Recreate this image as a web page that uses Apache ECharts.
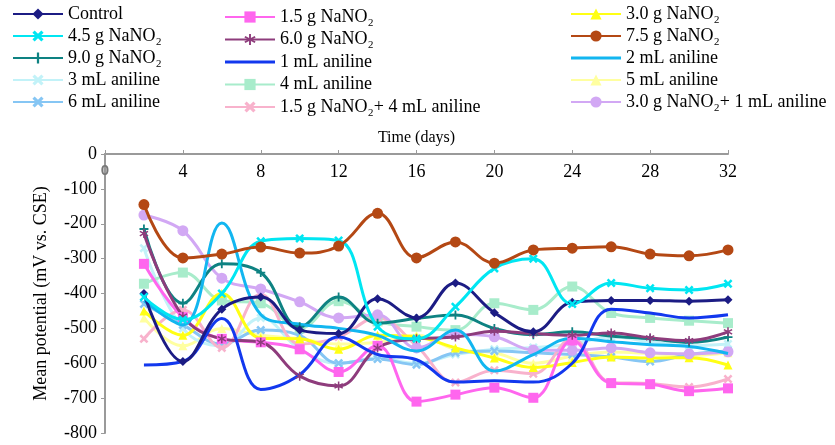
<!DOCTYPE html>
<html><head><meta charset="utf-8">
<script src="https://cdn.jsdelivr.net/npm/echarts@6/dist/echarts.min.js"></script>
<style>html,body{margin:0;padding:0;background:#fff}#c{width:835px;height:445px}</style>
</head><body><div id="c"></div>
<script>
var days = [2,4,6,8,10,12,14,16,18,20,22,24,26,28,30,32];
var xTicks = [0,4,8,12,16,20,24,28,32];
var yTicks = [0,-100,-200,-300,-400,-500,-600,-700,-800];
var seriesNames = ['Control','4.5 g NaNO₂','9.0 g NaNO₂','3 mL aniline','6 mL aniline',
  '1.5 g NaNO₂','6.0 g NaNO₂','1 mL aniline','4 mL aniline','1.5 g NaNO₂+ 4 mL aniline',
  '3.0 g NaNO₂','7.5 g NaNO₂','2 mL aniline','5 mL aniline','3.0 g NaNO₂+ 1 mL aniline'];
var control     = [-400,-595,-445,-410,-505,-515,-415,-470,-370,-455,-510,-425,-420,-420,-422,-418];
var g45         = [-410,-475,-400,-250,-242,-248,-495,-530,-438,-328,-300,-430,-370,-385,-390,-372];
var g90         = [-215,-428,-315,-340,-495,-410,-485,-472,-462,-500,-518,-510,-522,-530,-540,-525];
var ml3         = [-270,-500,-550,-470,-560,-600,-585,-600,-575,-560,-555,-545,-525,-538,-550,-545];
var ml6         = [-430,-490,-545,-505,-520,-600,-588,-604,-570,-565,-570,-575,-582,-595,-575,-565];
var g15         = [-315,-468,-530,-540,-560,-625,-550,-710,-690,-670,-699,-535,-657,-660,-680,-672];
var g60         = [-228,-465,-530,-540,-637,-665,-556,-530,-525,-508,-515,-520,-513,-527,-535,-510];
var ml1         = [-605,-595,-472,-675,-633,-525,-575,-590,-654,-650,-654,-600,-445,-456,-470,-461];
var ml4         = [-372,-340,-420,-428,-500,-422,-480,-495,-505,-428,-447,-380,-456,-470,-478,-485];
var g15ml4      = [-530,-447,-556,-402,-545,-525,-470,-550,-655,-620,-630,-530,-655,-658,-668,-645];
var g30         = [-450,-520,-400,-528,-530,-560,-520,-525,-556,-585,-612,-598,-582,-585,-584,-605];
var g75         = [-145,-298,-287,-267,-284,-264,-170,-298,-252,-313,-275,-270,-266,-287,-292,-275];
var ml2         = [-420,-490,-198,-460,-488,-500,-520,-565,-505,-622,-575,-528,-538,-547,-552,-572];
var ml5         = [-470,-550,-500,-520,-530,-545,-540,-520,-560,-570,-600,-580,-568,-572,-578,-570];
var g30ml1      = [-175,-220,-356,-387,-424,-470,-461,-556,-517,-524,-562,-563,-556,-570,-573,-567];

var valueSets = [control,g45,g90,ml3,ml6,g15,g60,ml1,ml4,g15ml4,g30,g75,ml2,ml5,g30ml1];

var X = 'path://M0,2L2,0L5,3L8,0L10,2L7,5L10,8L8,10L5,7L2,10L0,8L3,5Z';
var PLUS = 'path://M4,0H6V4H10V6H6V10H4V6H0V4H4Z';
var STAR = 'path://M4.2,0H5.8V3.6L8.9,1.8L9.7,3.2L6.6,5L9.7,6.8L8.9,8.2L5.8,6.4V10H4.2V6.4L1.1,8.2L0.3,6.8L3.4,5L0.3,3.2L1.1,1.8L4.2,3.6Z';
var LINEICON = 'path://M0,4.7H10V5.3H0Z';
var styles = [
  {c:'#1c1c84', s:'diamond', z:11},
  {c:'#00e6f2', s:X, z:11},
  {c:'#0e8282', s:PLUS, z:10},
  {c:'#c2f2f8', s:X, z:7},
  {c:'#86c6f4', s:X, z:7},
  {c:'#ff66ee', s:'rect', z:10},
  {c:'#8e3c7c', s:STAR, z:10},
  {c:'#1238ee', s:'none', z:10},
  {c:'#a8eccb', s:'rect', z:8},
  {c:'#f8b2cc', s:X, z:8},
  {c:'#ffff14', s:'triangle', z:9},
  {c:'#b44814', s:'circle', z:12},
  {c:'#12b6f0', s:'none', z:10},
  {c:'#ffffa0', s:'triangle', z:6},
  {c:'#d2a8f4', s:'circle', z:9}
];

var series = seriesNames.map(function(n,i){
  var st = styles[i];
  var size = st.s==='circle' ? 11 : (st.s==='rect' ? 10 : 9);
  return {
    name:n, type:'line', smooth:0.4, z:st.z,
    symbol: st.s, symbolSize: size, showSymbol: st.s!=='none',
    lineStyle:{color:st.c, width:3},
    itemStyle:{color:st.c},
    emphasis:{disabled:true},
    data: days.map(function(d,k){return [d, valueSets[i][k]];})
  };
});

var legendText = {fontFamily:'Liberation Serif', fontSize:18, color:'#000'};
function mkLegend(idx, left, top, gap){
  return {data:idx.map(function(i){
      var o = {name:seriesNames[i]};
      if (styles[i].s==='none') o.icon = LINEICON;
      return o;
    }), orient:'vertical', left:left, top:top, itemWidth:50, itemHeight:14,
    itemGap:gap, textStyle:legendText, padding:0, selectedMode:false};
}

var chart = echarts.init(document.getElementById('c'), null, {renderer:'canvas'});
chart.setOption({
  animation:false,
  backgroundColor:'#fff',
  legend:[
    mkLegend([0,1,2,3,4], 12, 5, 4),
    mkLegend([5,6,7,8,9], 224, 8, 4.5),
    mkLegend([10,11,12,13,14], 570, 5, 4)
  ],
  grid:{left:105, top:154, right:107, bottom:12, containLabel:false},
  xAxis:{type:'value', position:'top', min:xTicks[0], max:xTicks[xTicks.length-1], interval:4,
    name:'Time (days)', nameLocation:'middle', nameGap:8,
    nameTextStyle:{fontFamily:'Liberation Serif', fontSize:16, color:'#000'},
    axisLine:{lineStyle:{color:'#9a9a9a', width:2}},
    axisTick:{show:true, inside:false, length:4, lineStyle:{color:'#9a9a9a'}},
    axisLabel:{inside:true, margin:9, fontFamily:'Liberation Serif', fontSize:18, color:'#000',
      formatter:function(v){return v===0 ? '{z|0}' : String(v);},
      rich:{z:{fontFamily:'Liberation Sans', fontWeight:'bold', fontSize:15, color:'#777'}}},
    splitLine:{show:false}},
  yAxis:{type:'value', min:yTicks[yTicks.length-1], max:yTicks[0], interval:100,
    name:'Mean potential (mV vs. CSE)', nameLocation:'middle', nameGap:55,
    nameTextStyle:{fontFamily:'Liberation Serif', fontSize:18, color:'#000'},
    axisLine:{show:true, lineStyle:{color:'#9a9a9a', width:2}},
    axisTick:{show:true, length:4, lineStyle:{color:'#9a9a9a'}},
    axisLabel:{margin:8, fontFamily:'Liberation Serif', fontSize:18, color:'#000'},
    splitLine:{show:false}},
  series:series
});
</script></body></html>
